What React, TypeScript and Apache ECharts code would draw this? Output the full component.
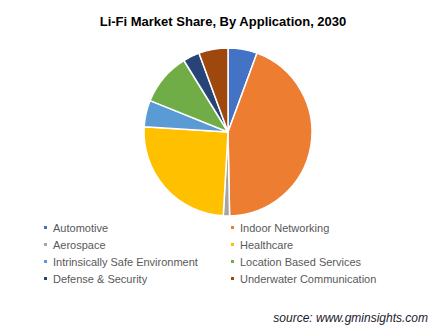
import React, { useEffect, useRef } from "react";
import * as echarts from "echarts";

const categories = [
  "Automotive",
  "Indoor Networking",
  "Aerospace",
  "Healthcare",
  "Intrinsically Safe Environment",
  "Location Based Services",
  "Defense & Security",
  "Underwater Communication",
];
const shares = [5.6, 44.1, 1.2, 25.1, 5.1, 10.1, 3.2, 5.6];
const colors = ["#4472C4", "#ED7D31", "#A5A5A5", "#FFC000", "#5B9BD5", "#70AD47", "#264478", "#9E480E"];
const legendLeft = [categories[0], categories[2], categories[4], categories[6]];
const legendRight = [categories[1], categories[3], categories[5], categories[7]];

export default function App() {
  const ref = useRef<HTMLDivElement>(null);
  useEffect(() => {
    if (!ref.current) return;
    const chart = echarts.init(ref.current, null, { renderer: "svg" });
    const legendCommon = {
      orient: "vertical" as const,
      top: 217,
      icon: "rect",
      itemWidth: 5,
      itemHeight: 5,
      itemGap: 6,
      padding: 5,
      textStyle: { fontFamily: "Liberation Sans, Arial", fontSize: 11, color: "#595959" },
      selectedMode: false,
    };
    chart.setOption({
      animation: false,
      color: colors,
      title: {
        text: "Li-Fi Market Share, By Application, 2030",
        left: "center",
        top: 10,
        textStyle: { fontFamily: "Liberation Sans, Arial", fontSize: 13, fontWeight: "bold", color: "#000" },
      },
      legend: [
        { ...legendCommon, left: 37, data: legendLeft },
        { ...legendCommon, left: 224, data: legendRight },
      ],
      graphic: [
        {
          type: "text",
          right: 18,
          top: 312,
          style: {
            text: "source: www.gminsights.com",
            font: "italic 12px Liberation Sans, Arial",
            fill: "#1a1a2e",
          },
        },
      ],
      series: [
        {
          type: "pie",
          center: [228, 132],
          radius: 84,
          startAngle: 90,
          clockwise: true,
          label: { show: false },
          labelLine: { show: false },
          itemStyle: { borderColor: "#fff", borderWidth: 1.5 },
          data: categories.map((name, i) => ({ name, value: shares[i] })),
        },
      ],
    });
    return () => chart.dispose();
  }, []);
  return <div ref={ref} style={{ width: 446, height: 335, position: "absolute", left: 0, top: 0 }} />;
}
